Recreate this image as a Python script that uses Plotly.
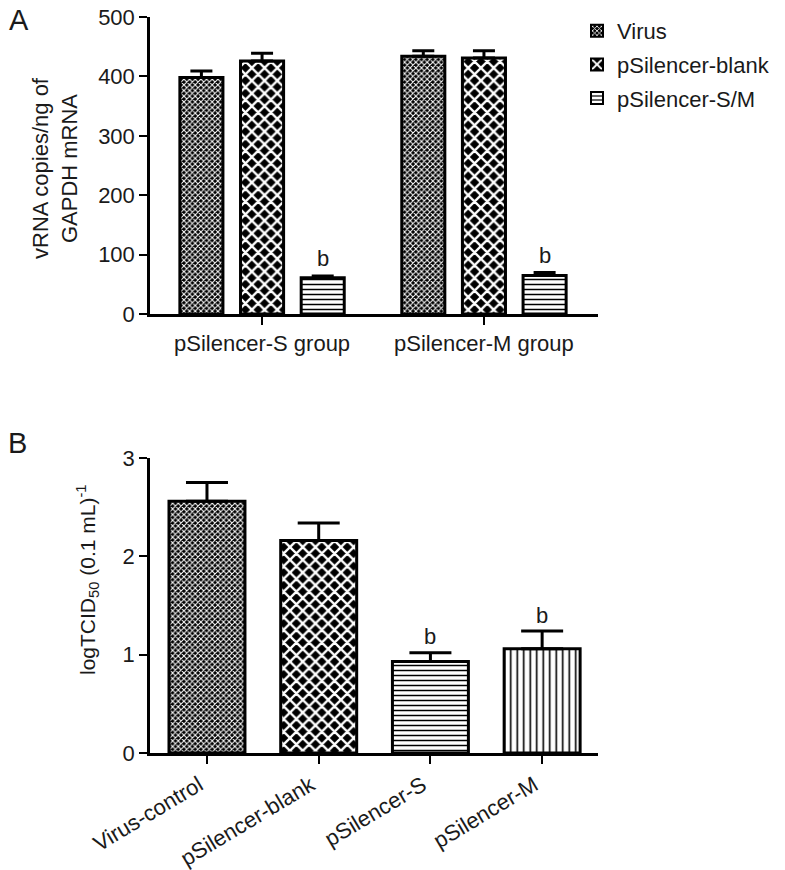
import plotly.graph_objects as go

# ---------------- data ----------------
# Panel A
groups_a = ["pSilencer-S group", "pSilencer-M group"]
series_a = ["Virus", "pSilencer-blank", "pSilencer-S/M"]
virus_vals = [398, 434]
virus_err = [11, 9]
blank_vals = [426, 431]
blank_err = [13, 12]
sm_vals = [61, 65]
sm_err = [3, 5]
sig_a = ["", "", "b"]          # significance mark per series (shown on both groups)

# Panel B
cats_b = ["Virus-control", "pSilencer-blank", "pSilencer-S", "pSilencer-M"]
vals_b = [2.56, 2.16, 0.93, 1.06]
err_b = [0.19, 0.18, 0.09, 0.18]
sig_b = ["", "", "b", "b"]

yticks_a = [0, 100, 200, 300, 400, 500]
yticks_b = [0, 1, 2, 3]

# ---------------- style ----------------
W, H = 785, 870
FONT = "Liberation Sans, Arial, sans-serif"
FS = 22
INK = "#1a1a1a"

pat_styles = {
    "Virus": dict(shape="x", size=4, solidity=0.45, fgcolor="white", bgcolor="black", fillmode="replace"),
    "pSilencer-blank": dict(shape="x", size=9, solidity=0.45, fgcolor="white", bgcolor="black", fillmode="replace"),
    "pSilencer-S/M": dict(shape="-", size=5, solidity=0.3, fgcolor="black", bgcolor="white", fillmode="replace"),
    "pSilencer-M": dict(shape="|", size=6.5, solidity=0.25, fgcolor="black", bgcolor="white", fillmode="replace"),
}

BARGAP_A = 0.18
BARGROUPGAP_A = 0.29

fig = go.Figure()

vals_a = [virus_vals, blank_vals, sm_vals]
errs_a = [virus_err, blank_err, sm_err]
for name, v, e in zip(series_a, vals_a, errs_a):
    fig.add_trace(go.Bar(
        x=groups_a, y=v, name=name,
        xaxis="x", yaxis="y",
        marker=dict(color="white", line=dict(color="black", width=3),
                    pattern=pat_styles[name]),
        error_y=dict(type="data", symmetric=False, array=e, arrayminus=[0] * len(e),
                     color="black", thickness=3, width=11),
        legendgroup=name,
    ))

# panel B: single trace with per-bar patterns
b_pat_keys = ["Virus", "pSilencer-blank", "pSilencer-S/M", "pSilencer-M"]
fig.add_trace(go.Bar(
    x=cats_b, y=vals_b, xaxis="x2", yaxis="y2", width=0.68, showlegend=False,
    marker=dict(color="white", line=dict(color="black", width=3),
                pattern=dict(
                    shape=[pat_styles[k]["shape"] for k in b_pat_keys],
                    size=[pat_styles[k]["size"] for k in b_pat_keys],
                    solidity=[pat_styles[k]["solidity"] for k in b_pat_keys],
                    fgcolor=[pat_styles[k]["fgcolor"] for k in b_pat_keys],
                    bgcolor=[pat_styles[k]["bgcolor"] for k in b_pat_keys],
                    fillmode="replace")),
    error_y=dict(type="data", symmetric=False, array=err_b, arrayminus=[0] * len(err_b),
                 color="black", thickness=3, width=21),
))

annotations = []
# significance letters, panel A (offset of each series within its group)
slot = (1 - BARGAP_A) / len(series_a)
for si, (mark, v, e) in enumerate(zip(sig_a, vals_a, errs_a)):
    if not mark:
        continue
    off = (si - (len(series_a) - 1) / 2) * slot
    for gi in range(len(groups_a)):
        annotations.append(dict(x=gi + off, y=v[gi] + e[gi], xref="x", yref="y",
                                text=mark, showarrow=False, yanchor="middle", yshift=17,
                                font=dict(family=FONT, size=FS, color=INK)))
for ci, (mark, v, e) in enumerate(zip(sig_b, vals_b, err_b)):
    if not mark:
        continue
    annotations.append(dict(x=ci, y=v + e, xref="x2", yref="y2",
                            text=mark, showarrow=False, yanchor="middle", yshift=16,
                            font=dict(family=FONT, size=FS, color=INK)))

# axis titles & panel letters
annotations += [
    dict(text="vRNA copies/ng of<br>GAPDH mRNA", textangle=-90, x=55 / W, y=1 - 168 / H,
         xref="paper", yref="paper", showarrow=False, xanchor="center", yanchor="middle",
         font=dict(family=FONT, size=FS, color=INK)),
    dict(text="logTCID<sub>50</sub> (0.1 mL)<sup>-1</sup>", textangle=-90, x=87 / W, y=1 - 580 / H,
         xref="paper", yref="paper", showarrow=False, xanchor="center", yanchor="middle",
         font=dict(family=FONT, size=FS - 1, color=INK)),
    dict(text="A", x=19 / W, y=1 - 20 / H, xref="paper", yref="paper", showarrow=False,
         xanchor="center", yanchor="middle", font=dict(family=FONT, size=29, color=INK)),
    dict(text="B", x=17 / W, y=1 - 443 / H, xref="paper", yref="paper", showarrow=False,
         xanchor="center", yanchor="middle", font=dict(family=FONT, size=29, color=INK)),
]

axis_common = dict(showline=True, linecolor="black", linewidth=2.5, ticks="outside",
                   tickcolor="black", tickwidth=2, showgrid=False, zeroline=False,
                   automargin=False,
                   tickfont=dict(family=FONT, size=FS, color=INK))

xdom = [150 / W, 598 / W]
fig.update_layout(
    width=W, height=H,
    margin=dict(l=0, r=0, t=0, b=0, autoexpand=False),
    paper_bgcolor="white", plot_bgcolor="white",
    barmode="group", bargap=BARGAP_A, bargroupgap=BARGROUPGAP_A,
    font=dict(family=FONT, size=FS, color=INK),
    xaxis=dict(domain=xdom, anchor="y", range=[-0.505, 1.514], ticklen=8, **axis_common),
    yaxis=dict(domain=[1 - 314 / H, 1 - 17 / H], anchor="x", range=[0, 500],
               tickvals=yticks_a, ticklen=8, **axis_common),
    xaxis2=dict(domain=xdom, anchor="y2", range=[-0.51, 3.50], ticklen=8, tickangle=-31,
                ticklabelshift=-8, **axis_common),
    yaxis2=dict(domain=[1 - 753 / H, 1 - 458 / H], anchor="x2", range=[0, 3],
                tickvals=yticks_b, ticklen=8, **axis_common),
    showlegend=True,
    legend=dict(xref="container", yref="container", x=577 / W, y=1 - 10 / H,
                xanchor="left", yanchor="top",
                font=dict(family=FONT, size=FS, color=INK), tracegroupgap=2,
                bgcolor="rgba(0,0,0,0)", itemsizing="constant"),
    annotations=annotations,
)

fig.write_html("out.html", config={"displayModeBar": False},
               post_script="document.body.style.margin='0';document.body.style.overflow='hidden';")
